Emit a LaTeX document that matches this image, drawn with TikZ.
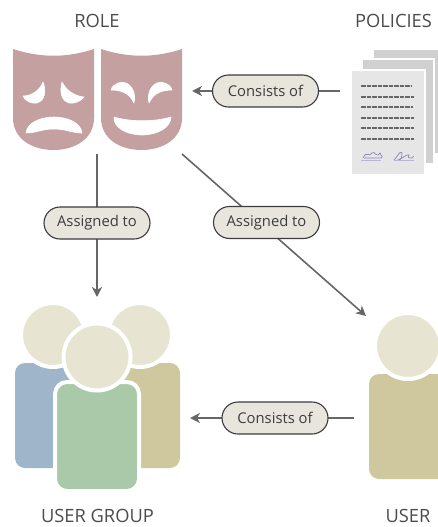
\documentclass[tikz,border=0pt]{standalone}
\usepackage{fontspec}
\setmainfont{Open Sans}
\usetikzlibrary{arrows.meta,shapes.misc}
\definecolor{maskc}{HTML}{C4A0A0}
\definecolor{headc}{HTML}{E8E4D2}
\definecolor{bluec}{HTML}{9FB5CA}
\definecolor{oliv}{HTML}{CFC89E}
\definecolor{greenc}{HTML}{A9C9A9}
\definecolor{pillc}{HTML}{E8E5DD}
\definecolor{inkc}{HTML}{3C3C3C}
\definecolor{linec}{HTML}{666666}
\definecolor{sigc}{HTML}{8A86B4}
\definecolor{pageback}{HTML}{D0D0D0}
\definecolor{pagefront}{HTML}{E6E6E6}
\tikzset{
  pill/.style={rounded rectangle,draw=inkc,line width=1.1pt,fill=pillc,minimum width=106pt,minimum height=32pt,inner sep=0pt,font=\fontsize{14.8}{17}\selectfont,text=inkc},
  title/.style={font=\fontsize{18.3}{21}\selectfont,text=black!70,inner sep=0pt},
  conn/.style={draw=linec,line width=1.6pt},
  arrowed/.style={conn,-{Stealth[length=10pt,width=10pt,inset=3pt]}},
  ring/.style={draw=white,line width=4pt},
  maskhole/.style={fill=white,draw=white,line width=.6pt,line join=round},
  txtline/.style={draw=black!60,line width=1.2pt,dash pattern=on 4.5pt off 1pt},
}
\begin{document}
\begin{tikzpicture}[x=1pt,y=-1pt]
\useasboundingbox (0,0) rectangle (438,527);
\clip (0,0) rectangle (438,527);
% titles
\node[title] (troleT) at (97,21) {ROLE};
\node[title] (tpolT) at (393.5,21) {POLICIES};
\node[title] (tgrpT) at (97.5,516) {USER GROUP};
\node[title] (tusrT) at (408,516) {USER};
% masks
\fill[maskc] (13,49) .. controls (40,58) and (67,58) .. (94,49) -- (94,118) .. controls (94,138) and (76,150) .. (53.5,150) .. controls (31,150) and (13,138) .. (13,118) -- cycle;
\fill[maskc] (101,49) .. controls (128,58) and (155,58) .. (182,49) -- (182,118) .. controls (182,138) and (164,150) .. (141.5,150) .. controls (119,150) and (101,138) .. (101,118) -- cycle;
\path[maskhole] (43,82) .. controls (46,90) and (46,100) .. (37,103) .. controls (31,104) and (25,101) .. (23,96) .. controls (32,96) and (40,90) .. (43,82) -- cycle;
\path[maskhole] (62,82) .. controls (60,90) and (60,100) .. (69,103) .. controls (75,104) and (81,101) .. (84,97) .. controls (74,96) and (66,90) .. (62,82) -- cycle;
\path[maskhole] (26,133) .. controls (27,122) and (42,117) .. (54,117) .. controls (66,117) and (81,122) .. (82,133) .. controls (72,133) and (66,129) .. (54,129) .. controls (42,129) and (36,133) .. (26,133) -- cycle;
\path[maskhole] (111,90) .. controls (113,83) and (122,81) .. (126,83) .. controls (133,86) and (136,95) .. (134,103) .. controls (131,97) and (126,90) .. (111,90) -- cycle;
\path[maskhole] (172,90) .. controls (170,83) and (161,81) .. (157,83) .. controls (150,86) and (147,95) .. (149,103) .. controls (152,97) and (157,90) .. (172,90) -- cycle;
\path[maskhole] (114,117) .. controls (130,122) and (155,122) .. (171,117) .. controls (171,127) and (158,135) .. (142,135) .. controls (126,135) and (113,127) .. (114,117) -- cycle;
% policy pages
\fill[pageback] (374,50) rectangle (438,153);
\fill[white] (361,58) rectangle (435,165);
\fill[pageback] (363,60) rectangle (433,163);
\fill[white] (350,69) rectangle (426,176);
\fill[pagefront] (352,71) rectangle (424,174);
\foreach \yy/\xe in {86/411,97/414,107/413,118/414,128/414,139/414}
  \draw[txtline] (361,\yy) -- (\xe,\yy);
\draw[sigc,line width=.7pt] (363,158) .. controls (367,150) and (369,158) .. (372,153) .. controls (375,150) and (376,159) .. (380,153) .. controls (381,157) and (384,155) .. (381,158) -- (364,158);
\draw[sigc!60,line width=.8pt] (361,160) -- (381,160);
\draw[sigc,line width=.7pt] (394,160) .. controls (398,156) and (400,150) .. (402,153) .. controls (402,158) and (400,161) .. (398,160) .. controls (404,158) and (406,154) .. (409,155) .. controls (406,158) and (412,160) .. (414,156);
\draw[sigc!60,line width=.8pt] (394,160) -- (414,160);
% connector ends
\coordinate (roleS) at (97,154);
\coordinate (roleSE) at (182,154);
\coordinate (roleE) at (192,91);
\coordinate (polW) at (340,91);
\coordinate (groupN) at (97,297);
\coordinate (userNW) at (366,316);
\coordinate (userW) at (354,418);
\coordinate (groupE) at (190,418);
% connectors
\draw[arrowed] (polW) -- (roleE);
\draw[arrowed] (roleS) -- (groupN);
\draw[arrowed] (roleSE) -- (userNW);
\draw[arrowed] (userW) -- (groupE);
% labels on connectors
\node[pill] (consistsA) at (265.5,91) {Consists of};
\node[pill] (assignA) at (97,223) {Assigned to};
\node[pill] (assignB) at (266.5,222.5) {Assigned to};
\node[pill] (consistsB) at (275,418) {Consists of};
% group
\fill[bluec,rounded corners=10pt] (15,363) rectangle (80,468);
\fill[oliv,rounded corners=10pt] (115,363) rectangle (180,468);
\filldraw[fill=headc,ring] (53,335) circle (32);
\filldraw[fill=headc,ring] (140,335) circle (32);
\filldraw[fill=greenc,ring,rounded corners=12pt] (55,382) rectangle (139,491);
\filldraw[fill=headc,ring] (97,357) circle (33.5);
% user
\fill[oliv,rounded corners=10pt] (369,374) rectangle (460,479);
\filldraw[fill=headc,ring] (408,346) circle (33);
\end{tikzpicture}
\end{document}
